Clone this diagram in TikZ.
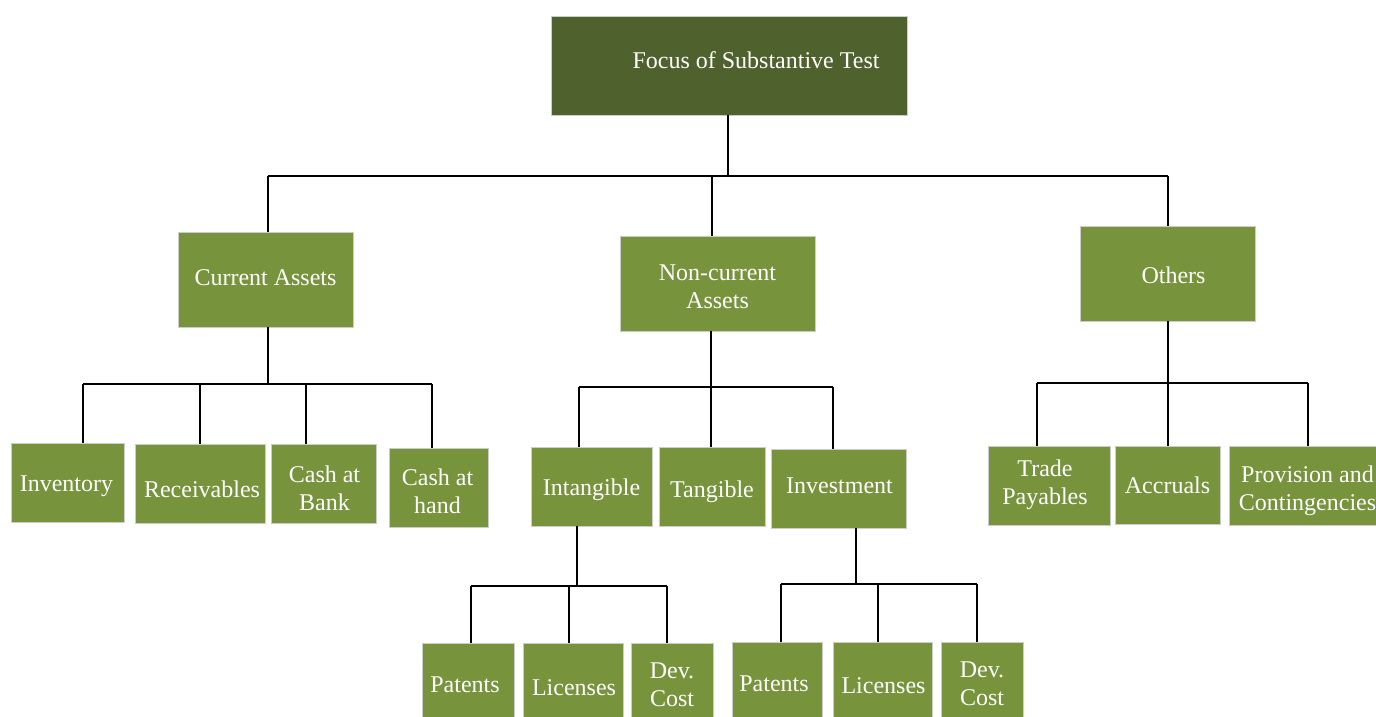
\documentclass[tikz,border=0pt]{standalone}
\usepackage{fontspec}
\setmainfont{Liberation Serif}
\definecolor{darkolive}{HTML}{4F612C}
\definecolor{leaf}{HTML}{77933C}
\tikzset{
  box/.style={fill=leaf, draw=white!80!black, line width=0.6pt, inner sep=0pt},
  txt/.style={text=white, font=\fontsize{24}{28}\selectfont, align=center, inner sep=0pt},
  conn/.style={draw=black, line width=1.8pt},
}
% \mybox[opts]{name}{x1}{y1}{x2}{y2}{dx}{dy}{text}
\newcommand\mybox[8][]{%
  \node[box, #1, minimum width={(#5-#3)*1pt}, minimum height={(#6-#4)*1pt}]
    (#2) at ({(#3+#5)/2},{(#4+#6)/2}) {};
  \node[txt, xshift=#7pt, yshift=-#8pt] (#2-t) at (#2.center) {\mytext};}
\newcommand\bx[9][]{\def\mytext{#9}\mybox[#1]{#2}{#3}{#4}{#5}{#6}{#7}{#8}}
\begin{document}
\begin{tikzpicture}[x=1pt,y=-1pt]
\useasboundingbox (0,0) rectangle (1376,717);
% junction coordinates
\coordinate (j0) at (728,176);
\coordinate (t1) at (268,176);
\coordinate (t2) at (712,176);
\coordinate (t3) at (1168,176);
\coordinate (ja) at (268,384);
\coordinate (a1) at (83,384);
\coordinate (a2) at (200,384);
\coordinate (a3) at (306,384);
\coordinate (a4) at (432,384);
\coordinate (jb) at (711,387);
\coordinate (b1) at (579,387);
\coordinate (b2) at (711,387);
\coordinate (b3) at (833,387);
\coordinate (jc) at (1168,383);
\coordinate (c1) at (1037,383);
\coordinate (c2) at (1168,383);
\coordinate (c3) at (1308,383);
\coordinate (jd) at (577,586);
\coordinate (d1) at (471,586);
\coordinate (d2) at (569,586);
\coordinate (d3) at (667,586);
\coordinate (je) at (856,584);
\coordinate (e1) at (781,584);
\coordinate (e2) at (878,584);
\coordinate (e3) at (977,584);
% boxes
\bx[fill=darkolive]{top}{551}{16}{907}{115}{27}{-5}{Focus of Substantive Test}
\bx{ca}{178}{232}{353}{327}{0}{-2}{Current Assets}
\bx{nca}{620}{236}{815}{331}{0}{3}{Non-current\\Assets}
\bx{oth}{1080}{226}{1255}{321}{6}{2}{Others}
\bx{inv}{11}{443}{124}{522}{-1}{4}{Inventory}
\bx{rec}{135}{444}{265}{523}{2}{6}{Receivables}
\bx{cab}{271}{444}{376}{523}{1}{5}{Cash at\\Bank}
\bx{cah}{389}{448}{488}{527}{-1}{4}{Cash at\\hand}
\bx{intg}{531}{447}{652}{526}{0}{3}{Intangible}
\bx{tang}{659}{447}{765}{526}{0}{5}{Tangible}
\bx{inve}{771}{449}{906}{528}{1}{-3}{Investment}
\bx{tp}{988}{446}{1110}{525}{-4}{-1}{Trade\\Payables}
\bx{acc}{1115}{446}{1220}{524}{0}{0}{Accruals}
\bx{prov}{1229}{446}{1376}{525}{5}{5}{Provision and\\Contingencies}
\bx{pat1}{422}{643}{514}{717}{-3}{5}{Patents}
\bx{lic1}{523}{643}{623}{717}{1}{8}{Licenses}
\bx{dev1}{631}{643}{713}{717}{0}{5}{Dev.\\Cost}
\bx{pat2}{732}{642}{822}{717}{-3}{4}{Patents}
\bx{lic2}{833}{642}{932}{717}{1}{6}{Licenses}
\bx{dev2}{941}{642}{1023}{717}{0}{4}{Dev.\\Cost}
% connectors
\draw[conn] (top.south -| j0) -- (j0);
\draw[conn] (t1) -- (t3);
\draw[conn] (t1) -- (t1 |- ca.north);
\draw[conn] (t2) -- (t2 |- nca.north);
\draw[conn] (t3) -- (t3 |- oth.north);
\draw[conn] (ca.south -| ja) -- (ja);
\draw[conn] (a1) -- (a4);
\draw[conn] (a1) -- (a1 |- inv.north);
\draw[conn] (a2) -- (a2 |- rec.north);
\draw[conn] (a3) -- (a3 |- cab.north);
\draw[conn] (a4) -- (a4 |- cah.north);
\draw[conn] (nca.south -| jb) -- (jb);
\draw[conn] (b1) -- (b3);
\draw[conn] (b1) -- (b1 |- intg.north);
\draw[conn] (b2) -- (b2 |- tang.north);
\draw[conn] (b3) -- (b3 |- inve.north);
\draw[conn] (oth.south -| jc) -- (jc);
\draw[conn] (c1) -- (c3);
\draw[conn] (c1) -- (c1 |- tp.north);
\draw[conn] (c2) -- (c2 |- acc.north);
\draw[conn] (c3) -- (c3 |- prov.north);
\draw[conn] (intg.south -| jd) -- (jd);
\draw[conn] (d1) -- (d3);
\draw[conn] (d1) -- (d1 |- pat1.north);
\draw[conn] (d2) -- (d2 |- lic1.north);
\draw[conn] (d3) -- (d3 |- dev1.north);
\draw[conn] (inve.south -| je) -- (je);
\draw[conn] (e1) -- (e3);
\draw[conn] (e1) -- (e1 |- pat2.north);
\draw[conn] (e2) -- (e2 |- lic2.north);
\draw[conn] (e3) -- (e3 |- dev2.north);
\end{tikzpicture}
\end{document}
